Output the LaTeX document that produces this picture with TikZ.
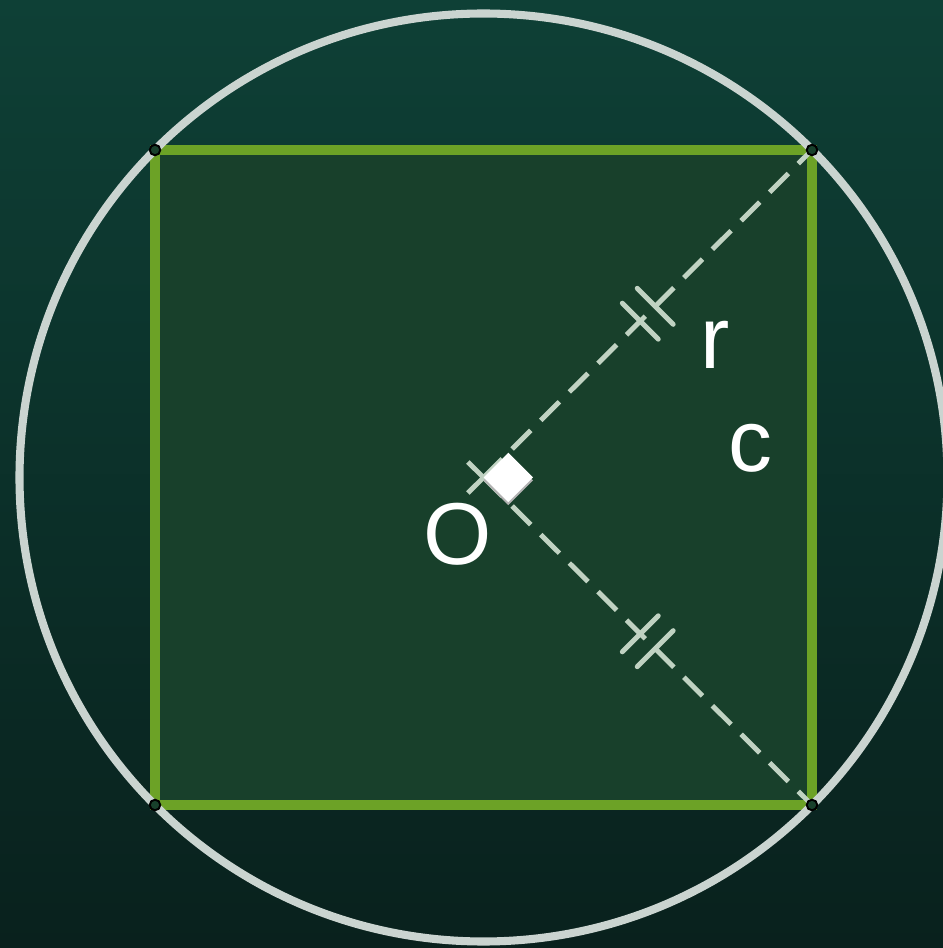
\documentclass[tikz,border=0pt]{standalone}
\usepackage{fontspec}
\setmainfont{Liberation Sans}
\usetikzlibrary{calc,decorations.markings}

\definecolor{boardtop}{RGB}{14,64,54}
\definecolor{boardbot}{RGB}{9,33,29}
\definecolor{sqfill}{RGB}{24,64,43}
\definecolor{sqedge}{RGB}{108,162,38}
\definecolor{ringgray}{RGB}{202,212,208}
\definecolor{chalk}{RGB}{192,210,194}

\tikzset{
  radius line/.style={chalk, line width=2.8pt, dash pattern=on 15pt off 8pt},
  dbltick/.style={postaction={decorate,decoration={markings,
    mark=at position 0.5 with {
      \draw[chalk, solid, line width=2.8pt, line cap=round] (-6pt,-14.5pt) -- (-6pt,14.5pt);
      \draw[chalk, solid, line width=2.8pt, line cap=round] (6pt,-14.5pt) -- (6pt,14.5pt);}}}},
  vertex/.style={circle, draw=black, line width=1.1pt, fill=sqfill, inner sep=0pt, minimum size=6pt},
  letter/.style={white, font=\fontsize{50}{52}\selectfont}
}

\begin{document}
\begin{tikzpicture}[x=0.02cm,y=0.02cm]
% board
\shade[top color=boardtop, bottom color=boardbot] (0,0) rectangle (943,948);
\useasboundingbox (0,0) rectangle (943,948);

% corners and centre
\coordinate (TL) at (155,798);
\coordinate (TR) at (812,798);
\coordinate (BR) at (812,143);
\coordinate (BL) at (155,143);
\coordinate (O) at (483.5,470.5);

% square
\fill[sqfill] (TL) -- (TR) -- (BR) -- (BL) -- cycle;
\draw[sqedge, line width=5.6pt] (TL) -- (TR) -- (BR) -- (BL) -- cycle;

% circle
\draw[ringgray, line width=4.6pt] (O) circle (464);

% radii
\draw[radius line, dbltick] (O) -- (TR);
\draw[radius line, dbltick] (O) -- (BR);
\draw[chalk, line width=2.8pt] (O) -- ($(O)!-0.44cm!(TR)$);
\draw[chalk, line width=2.8pt] (O) -- ($(O)!-0.44cm!(BR)$);

% right angle
\fill[gray!60, rotate around={-45:(O)}] ($(O)+(2,-2)$) rectangle ++(35,35);
\fill[white, rotate around={-45:(O)}] (O) rectangle ++(35,35);

% vertices
\foreach \p in {TL,TR,BR,BL} {
    \node[vertex] (v\p) at (\p) {};
}

% labels
\node[letter] (lblr) at (715,603) {r};
\node[letter] (lblc) at (750,500) {c};
\node[letter] (lblO) at (458,414) {O};
\end{tikzpicture}
\end{document}
